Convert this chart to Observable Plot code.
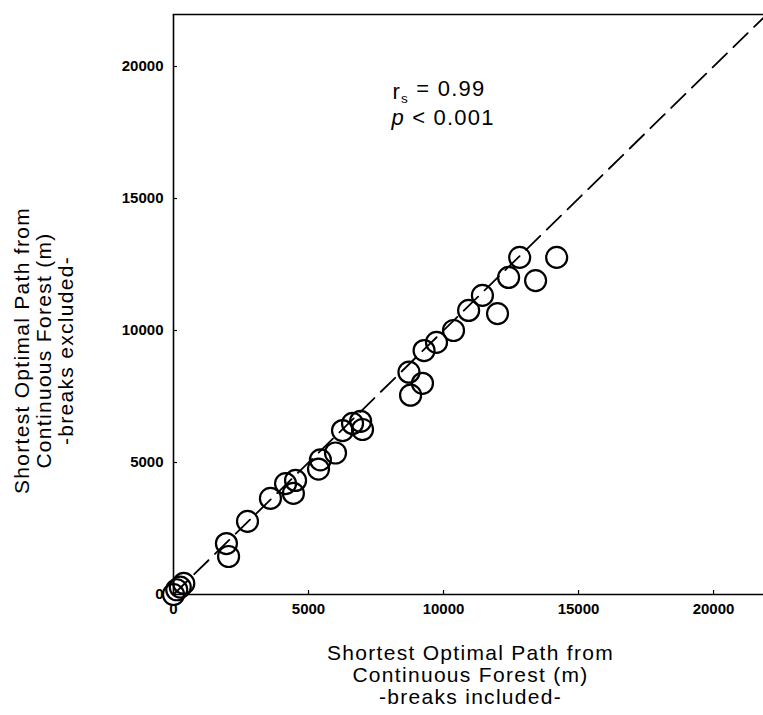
<!DOCTYPE html>
<html><head><meta charset="utf-8">
<script src="https://cdn.jsdelivr.net/npm/d3@7"></script>
<script src="https://cdn.jsdelivr.net/npm/@observablehq/plot@0.6"></script>
<style>
body{margin:0;background:#fff}
svg{display:block}
</style>
</head><body><div id="chart"></div>
<script>
// Shortest optimal path from continuous forest (m)
const breaksIncluded = [0, 120, 250, 380, 1960, 2040, 2740, 3590, 4150, 4520, 4440, 5370, 5440, 6000, 6260, 6630, 6930, 7000, 8780, 9220, 8720, 9280, 9740, 10370, 10930, 11440, 12000, 12410, 12820, 13410, 14190];
const breaksExcluded = [0, 180, 280, 420, 1930, 1440, 2770, 3640, 4200, 4320, 3830, 4750, 5100, 5360, 6210, 6480, 6560, 6250, 7550, 8000, 8420, 9240, 9550, 10000, 10760, 11330, 10640, 12010, 12770, 11890, 12770];
const tickValues = [0, 5000, 10000, 15000, 20000];
const identityLine = [0, 22000];
const xLabel = "Shortest Optimal Path from\nContinuous Forest (m)\n-breaks included-";
const yLabel = "Shortest Optimal Path from\nContinuous Forest (m)\n-breaks excluded-";
const statR = "r = 0.99";
const statP = "p < 0.001";

const points = breaksIncluded.map((x, i) => ({x, y: breaksExcluded[i]}));

const chart = Plot.plot({
  width: 763, height: 715,
  marginLeft: 173, marginRight: 0, marginTop: 14, marginBottom: 121,
  style: {fontFamily: "'Liberation Sans', Arial, sans-serif", background: "#fff", color: "#000"},
  x: {domain: [0, 21850], label: null},
  y: {domain: [0, 21970], label: null},
  marks: [
    Plot.frame({anchor: "top", stroke: "#000", strokeWidth: 1.5}),
    Plot.ruleX([0], {stroke: "#000", strokeWidth: 1.6}),
    Plot.ruleY([0], {stroke: "#000", strokeWidth: 1.6}),
    Plot.axisX({ticks: tickValues, tickSize: 4, dy: -4, tickFormat: () => "", label: null, strokeWidth: 1.2}),
    Plot.axisY({ticks: tickValues, tickSize: 4, dx: 4, tickFormat: () => "", label: null, strokeWidth: 1.2}),
    Plot.axisX({ticks: tickValues, tickSize: 0, tickPadding: 9, label: null, fontSize: 15, fontWeight: "bold", tickFormat: d => String(d)}),
    Plot.axisY({ticks: tickValues, tickSize: 0, tickPadding: 10, label: null, fontSize: 15, fontWeight: "bold", tickFormat: d => String(d)}),
    Plot.line(identityLine, {x: d => d, y: d => d, stroke: "#000", strokeWidth: 1.8, strokeDasharray: "20,9"}),
    Plot.dot(points, {x: "x", y: "y", r: 10.5, stroke: "#000", strokeWidth: 2.2, fill: "none"}),
    Plot.text([statR], {frameAnchor: "top-left", dx: 219, dy: 84, textAnchor: "start", lineAnchor: "bottom", fontSize: 22}),
    Plot.text([statP], {frameAnchor: "top-left", dx: 218, dy: 110, textAnchor: "start", lineAnchor: "bottom", fontSize: 22}),
    Plot.text([xLabel], {frameAnchor: "bottom", dx: 2, dy: 80, textAnchor: "middle", lineAnchor: "middle", fontSize: 21, lineHeight: 1.05}),
    Plot.text([yLabel], {frameAnchor: "left", dx: -129.5, dy: 46, rotate: -90, textAnchor: "middle", lineAnchor: "middle", fontSize: 21, lineHeight: 1.05})
  ]
});

d3.select(chart).selectAll("text").each(function() {
  const t = d3.select(this);
  const s = this.textContent;
  if (s === statR) {
    t.text(null).attr("letter-spacing", "1.2px");
    t.append("tspan").text("r");
    t.append("tspan").attr("font-size", "0.62em").attr("dy", "0.35em").text("s");
    t.append("tspan").attr("dy", "-0.35em").text(" = 0.99");
  } else if (s === statP) {
    t.text(null).attr("letter-spacing", "1.2px");
    t.append("tspan").attr("font-style", "italic").text("p");
    t.append("tspan").text(" < 0.001");
  } else if (s.includes("Shortest Optimal Path")) {
    t.attr("letter-spacing", "1.3px");
  }
});

document.getElementById("chart").append(chart);
</script>
</body></html>
